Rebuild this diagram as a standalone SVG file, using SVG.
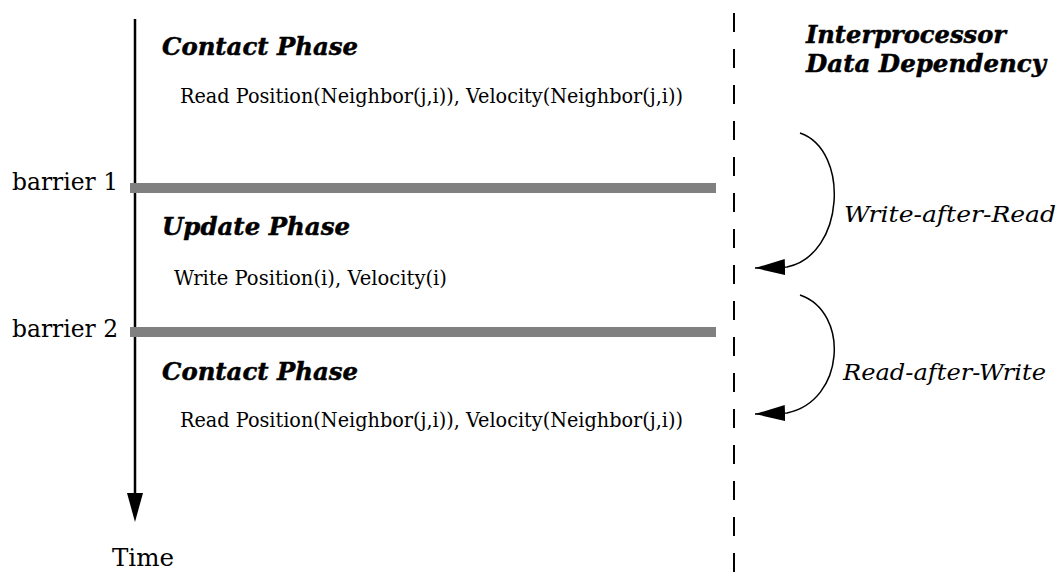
<svg xmlns="http://www.w3.org/2000/svg" width="1062" height="573" viewBox="0 0 1062 573">
  <style>
    .head { font-family: "DejaVu Serif", "Liberation Serif", serif; font-weight: bold; font-style: italic; font-size: 25px; fill: #000; stroke: #000; stroke-width: 0.5px; }
    .body { font-family: "DejaVu Serif", "Liberation Serif", serif; font-size: 19.5px; fill: #000; }
    .lbl { font-family: "DejaVu Serif", "Liberation Serif", serif; font-size: 24px; fill: #000; }
    .dep { font-family: "DejaVu Serif", "Liberation Serif", serif; font-style: italic; font-size: 23px; fill: #000; }
    .bar { fill: #808080; }
    .conn { fill: none; stroke: #000; }
  </style>
  <defs>
    <marker id="head" markerUnits="userSpaceOnUse" markerWidth="32" markerHeight="20" refX="30" refY="8" orient="auto">
      <polygon points="0,0 30,8 0,16" fill="#000"/>
    </marker>
  </defs>
  <rect width="1062" height="573" fill="#fff"/>

  <!-- time axis -->
  <g id="time-axis">
    <line class="conn" x1="135" y1="19" x2="135" y2="500" stroke-width="2.5"/>
    <polygon points="127,493 143,493 135,522" fill="#000"/>
    <text class="lbl" x="112" y="566" textLength="62" lengthAdjust="spacingAndGlyphs">Time</text>
  </g>

  <!-- barriers -->
  <g id="barrier1">
    <rect class="bar" x="130" y="183" width="586" height="10"/>
    <text class="lbl" x="12" y="190" textLength="106" lengthAdjust="spacingAndGlyphs">barrier 1</text>
  </g>
  <g id="barrier2">
    <rect class="bar" x="130" y="327" width="586" height="10"/>
    <text class="lbl" x="12" y="337" textLength="106" lengthAdjust="spacingAndGlyphs">barrier 2</text>
  </g>

  <!-- phases -->
  <g id="contact-phase-1">
    <text class="head" x="162" y="55" textLength="196" lengthAdjust="spacingAndGlyphs">Contact Phase</text>
    <text class="body" x="180" y="103" textLength="503" lengthAdjust="spacingAndGlyphs">Read Position(Neighbor(j,i)), Velocity(Neighbor(j,i))</text>
  </g>
  <g id="update-phase">
    <text class="head" x="162" y="235" textLength="188" lengthAdjust="spacingAndGlyphs">Update Phase</text>
    <text class="body" x="174" y="285" textLength="273" lengthAdjust="spacingAndGlyphs">Write Position(i), Velocity(i)</text>
  </g>
  <g id="contact-phase-2">
    <text class="head" x="162" y="380" textLength="196" lengthAdjust="spacingAndGlyphs">Contact Phase</text>
    <text class="body" x="180" y="427" textLength="503" lengthAdjust="spacingAndGlyphs">Read Position(Neighbor(j,i)), Velocity(Neighbor(j,i))</text>
  </g>

  <!-- processor boundary -->
  <g id="boundary">
    <line x1="734" y1="0" x2="734" y2="573" stroke="#000" stroke-width="2" stroke-dasharray="19 17" stroke-dashoffset="-13"/>
    <text class="head" x="806" y="43" textLength="200" lengthAdjust="spacingAndGlyphs">Interprocessor</text>
    <text class="head" x="806" y="72" textLength="240" lengthAdjust="spacingAndGlyphs">Data Dependency</text>
  </g>

  <!-- dependency arcs -->
  <g id="connectors">
    <path class="conn" stroke-width="1.5" d="M800,133 C850,150 845,255 787,267 L755,268" marker-end="url(#head)"/>
    <path class="conn" stroke-width="1.5" d="M800,295 C850,312 845,401 787,413 L755,414" marker-end="url(#head)"/>
  </g>
  <g id="dep-labels">
    <text class="dep" x="844" y="222" textLength="212" lengthAdjust="spacingAndGlyphs">Write-after-Read</text>
    <text class="dep" x="843" y="380" textLength="203" lengthAdjust="spacingAndGlyphs">Read-after-Write</text>
  </g>
</svg>
